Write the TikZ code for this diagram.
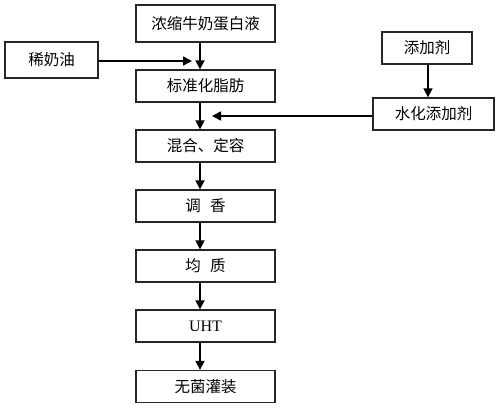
\documentclass[tikz,border=0pt]{standalone}
\usepackage{fontspec}
\setmainfont{Liberation Serif}
\newfontfamily\cjk{Noto Sans CJK SC}
\usetikzlibrary{arrows.meta}
\begin{document}
\begin{tikzpicture}[x=1pt,y=-1pt,
  box/.style={draw=black!85,line width=1.3pt,minimum height=32pt,inner sep=0pt,font=\cjk\fontsize{15.5}{18}\selectfont},
  flow/.style={line width=1.6pt,-{Triangle[length=9pt,width=9pt]}}]
\useasboundingbox (0,0) rectangle (500,409);
\fill[white] (0,0) rectangle (500,409);
\node[box,minimum width=139pt,minimum height=37pt] (a) at (205.5,23.5) {浓缩牛奶蛋白液};
\node[box,minimum width=93pt,minimum height=36pt] (b) at (51.5,60) {稀奶油};
\node[box,minimum width=139pt] (c) at (205.5,86) {标准化脂肪};
\node[box,minimum width=90pt] (d) at (427,48) {添加剂};
\node[box,minimum width=121pt] (e) at (433.5,114) {水化添加剂};
\node[box,minimum width=139pt] (f) at (205.5,146) {混合、定容};
\node[box,minimum width=139pt] (g) at (205.5,206) {调\hspace{0.6em}香};
\node[box,minimum width=139pt] (h) at (205.5,266) {均\hspace{0.6em}质};
\node[box,minimum width=139pt,font=\fontsize{16}{18}\selectfont] (i) at (205.5,326) {UHT};
\node[box,minimum width=139pt] (j) at (205.5,386.5) {无菌灌装};
\coordinate (p1) at (192,61);
\coordinate (p2) at (212,116);
\draw[flow] (a.south -| 200,0) -- (c.north -| 200,0);
\draw[flow] (b.east |- p1) -- (p1);
\draw[flow] (d.south -| 428,0) -- (e.north -| 428,0);
\draw[flow] (c.south -| 200,0) -- (f.north -| 200,0);
\draw[flow] (e.west |- p2) -- (p2);
\draw[flow] (f.south -| 200,0) -- (g.north -| 200,0);
\draw[flow] (g.south -| 200,0) -- (h.north -| 200,0);
\draw[flow] (h.south -| 200,0) -- (i.north -| 200,0);
\draw[flow] (i.south -| 200,0) -- (j.north -| 200,0);
\end{tikzpicture}
\end{document}
